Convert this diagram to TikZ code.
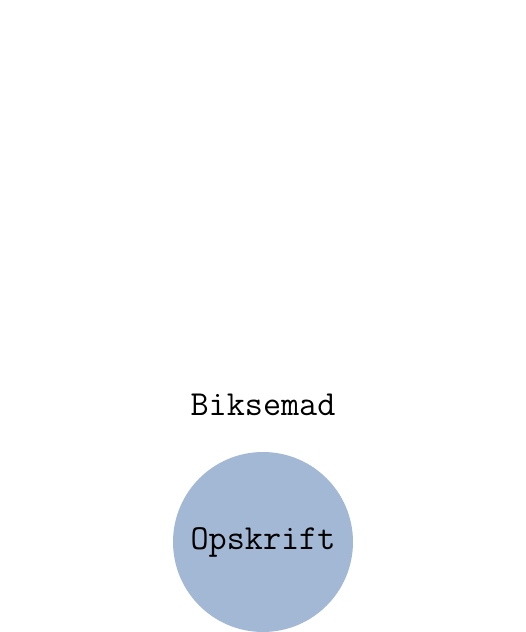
\documentclass[tikz,border=0pt]{standalone}
\usepackage{xcolor}
\definecolor{recipeblue}{HTML}{A3B8D4}
\usepackage{tikz}
\usetikzlibrary{positioning}

\begin{document}
\begin{tikzpicture}[font=\ttfamily\fontsize{20}{24}\selectfont]
        % Canvas
        \useasboundingbox (0,0) rectangle (10.52,12.64);

        % Recipe circle
        \node[circle, fill=recipeblue, minimum size=3.6cm, inner sep=0pt] (recipe) at (5.26,1.8) {Opskrift};

        % Dish name above
        \node[above=0.6cm of recipe] (dish) {Biksemad};
    \end{tikzpicture}
\end{document}
